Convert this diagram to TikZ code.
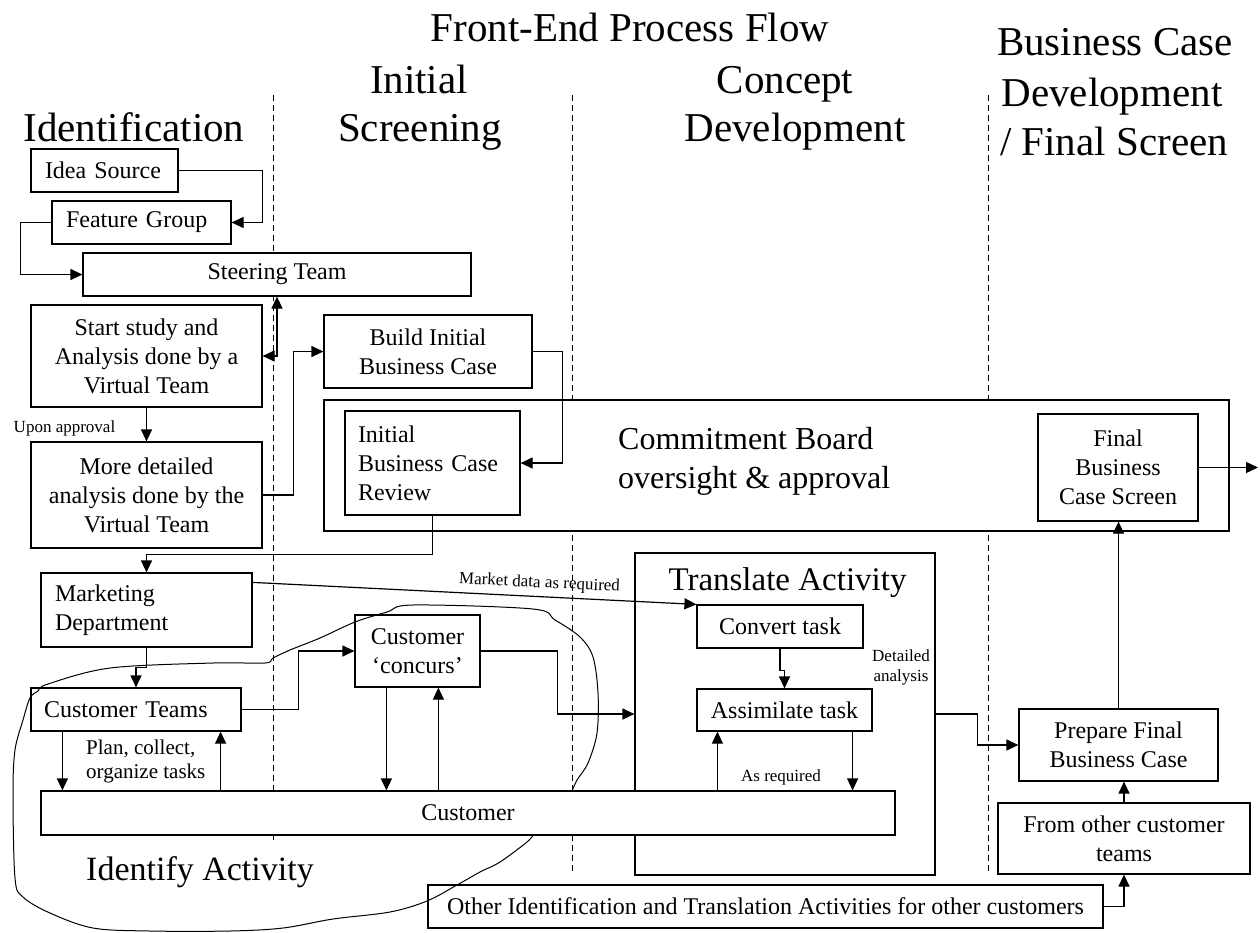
\documentclass[tikz,border=0pt]{standalone}
\usepackage{fontspec}
\setmainfont{Liberation Serif}
\usetikzlibrary{arrows.meta}
\begin{document}
\begin{tikzpicture}[x=1pt,y=-1pt,
  every node/.style={inner sep=0pt},
  box/.style={draw, line width=1.2pt, inner sep=0pt, align=center, font=\fontsize{24}{29}\selectfont},
  wbox/.style={box, fill=white},
  lbox/.style={box, align=left, inner xsep=14pt},
  head/.style={font=\fontsize{41}{50}\selectfont, anchor=base},
  small/.style={font=\fontsize{17}{20}\selectfont},
  conn/.style={line width=1.2pt, -{Triangle[length=12pt,width=11pt]}},
  dconn/.style={line width=1.2pt, {Triangle[length=12pt,width=11pt]}-{Triangle[length=12pt,width=11pt]}},
  phase/.style={line width=1pt, dash pattern=on 6pt off 4pt},
  sketch/.style={line width=1pt}
]
\useasboundingbox (0,0) rectangle (1260,932);

% headings
\node[head] (title) at (630,41) {Front-End Process Flow};
\node[head] (ph1) at (134,141) {Identification};
\node[head] (ph2a) at (419,93) {Initial};
\node[head] (ph2b) at (420,141) {Screening};
\node[head] (ph3a) at (785,93) {Concept};
\node[head] (ph3b) at (795,141) {Development};
\node[head] (ph4a) at (1115,55) {Business Case};
\node[head] (ph4b) at (1112,106) {Development};
\node[head] (ph4c) at (1114,155) {/ Final Screen};

% phase separators
\draw[phase] (273,95) -- (273,840);
\draw[phase] (572,95) -- (572,875);
\draw[phase] (988,95) -- (988,874);

% freehand boundary of the identify activity
\draw[sketch] plot[smooth, tension=0.55] coordinates {
 (533,835) (527,842) (500,862) (480,872) (457,885) (427,901) (390,912)
 (333,919) (283,928) (230,931) (150,931) (93,928) (50,913) (23,897) (15,878)
 (13,793) (15,750) (23,720) (30,698) (38,691) (48,684) (110,668) (213,663)
 (265,663) (273,658) (290,650) (320,638) (355,622) (387,612) (413,605)
 (533,609) (555,620) (580,637) (593,657) (598,693) (597,733) (588,763)
 (577,780) (572,791)};

% boxes
\node[lbox, text width=119pt, minimum height=43pt] (idea) at (104.5,170.5) {Idea Source};
\node[lbox, text width=151pt, minimum height=43pt] (feat) at (141.5,222.5) {Feature Group};
\node[wbox, minimum width=388pt, minimum height=43pt] (steer) at (277,274.5) {Steering Team};
\node[box, minimum width=231pt, minimum height=102pt] (start) at (146.5,356) {Start study and\\Analysis done by a\\Virtual Team};
\node[box, minimum width=231pt, minimum height=106pt] (more) at (146.5,495) {More detailed\\analysis done by the\\Virtual Team};
\node[box, minimum width=208pt, minimum height=73pt] (build) at (428,351.5) {Build Initial\\Business Case};
\node[wbox, minimum width=905pt, minimum height=131pt] (commit) at (776.5,465.5) {};
\node[font=\fontsize{32}{39}\selectfont, align=left, anchor=west] (committxt) at (618,461) {Commitment Board\\oversight \& approval};
\node[box, align=left, inner xsep=13pt, text width=149pt, minimum height=104pt] (review) at (432.5,463) {Initial\\Business Case\\Review};
\node[box, minimum width=160pt, minimum height=107pt] (final) at (1118,467.5) {Final\\Business\\Case Screen};
\node[box, align=left, inner xsep=14pt, text width=183pt, minimum height=74pt] (mkt) at (146.5,610) {Marketing\\Department};
\node[box, align=left, inner xsep=13pt, text width=184pt, minimum height=43pt] (teams) at (136,709.5) {Customer Teams};
\node[box, minimum width=125pt, minimum height=72pt] (conc) at (417.5,651) {Customer\\‘concurs’};
\node[box, minimum width=300pt, minimum height=322pt] (trans) at (785,714) {};
\node[font=\fontsize{33}{40}\selectfont, anchor=base] (transtxt) at (787.5,590) {Translate Activity};
\node[box, minimum width=166pt, minimum height=43pt] (conv) at (780,626.5) {Convert task};
\node[box, minimum width=175pt, minimum height=42pt] (assim) at (784.5,710) {Assimilate task};
\node[wbox, minimum width=854pt, minimum height=44pt] (cust) at (468,813) {Customer};
\node[box, minimum width=199pt, minimum height=72pt] (prep) at (1118.5,745) {Prepare Final\\Business Case};
\node[box, minimum width=252pt, minimum height=71pt] (from) at (1124,838.5) {From other customer\\teams};
\node[box, minimum width=675pt, minimum height=43pt] (other) at (765.5,906.5) {Other Identification and Translation Activities for other customers};

% free labels
\node[small] (upon) at (64.5,428) {Upon approval};
\node[font=\fontsize{21}{24}\selectfont, align=left, anchor=west] (plan) at (86,761) {Plan, collect,\\organize tasks};
\node[small, align=center] (det) at (901,667) {Detailed\\analysis};
\node[small] (asreq) at (781,777) {As required};
\node[font=\fontsize{34}{40}\selectfont, anchor=base west] (ident) at (86,880) {Identify Activity};

% connectors
\draw[conn] (idea.east) -- ++(84,0) |- (feat.east);
\draw[conn] (feat.west) -- ++(-31,0) |- (steer.west);
\draw[dconn] (start.east) -| (steer.south);
\draw[conn] (start.south) -- (more.north);
\draw[conn] (more.east) -- ++(31,0) |- (build.west);
\draw[conn] (build.east) -- ++(30,0) |- (review.east);
\draw[conn] (review.south) -- ++(0,39) -| (mkt.north);
\draw[conn] ([yshift=-10pt]mkt.north east) -- node[pos=0.645, sloped, above=5pt, small] (mdata) {Market data as required} (conv.north west);
\draw[conn] (mkt.south) -- ++(0,20) -| (teams.north);
\draw[conn] (teams.east) -- ++(57,0) |- (conc.west);
\draw[conn] (conc.east) -- ++(77,0) |- (trans.west);
\draw[conn] ([xshift=32pt]teams.south west) -- ([xshift=32pt]teams.south west |- cust.north);
\draw[conn] ([xshift=-21pt]teams.south east |- cust.north) -- ([xshift=-21pt]teams.south east);
\draw[conn] ([xshift=32pt]conc.south west) -- ([xshift=32pt]conc.south west |- cust.north);
\draw[conn] ([xshift=84pt]conc.south west |- cust.north) -- ([xshift=84pt]conc.south west);
\draw[conn] (conv.south) -- ++(0,22) -| (assim.north);
\draw[conn] ([xshift=21pt]assim.south west |- cust.north) -- ([xshift=21pt]assim.south west);
\draw[conn] ([xshift=-20pt]assim.south east) -- ([xshift=-20pt]assim.south east |- cust.north);
\draw[conn] (trans.east) -- ++(42,0) |- (prep.west);
\draw[conn] (prep.north) -- (prep.north |- final.south);
\draw[conn] (from.north) -- (from.north |- prep.south);
\draw[conn] (other.east) -| (from.south);
\coordinate (out) at (1258,467.5);
\draw[conn] (final.east) -- (out);
\end{tikzpicture}
\end{document}
